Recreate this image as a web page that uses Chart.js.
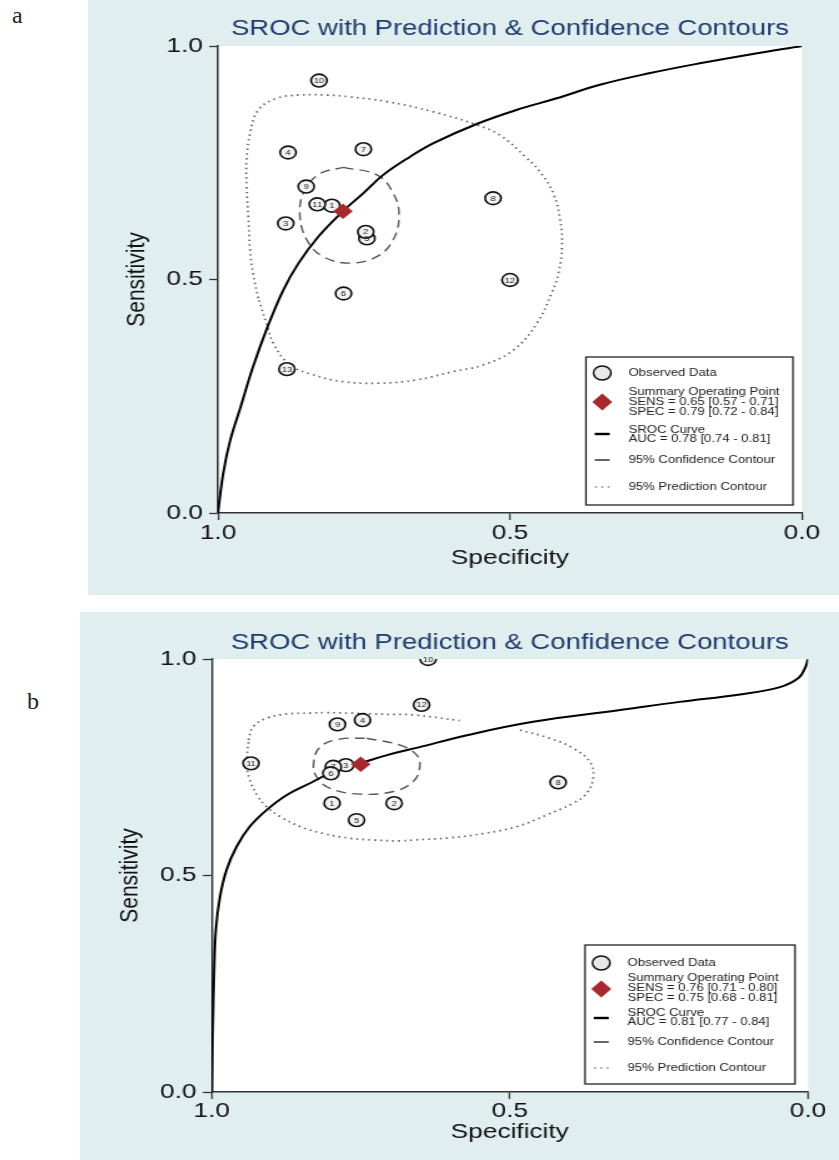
<!DOCTYPE html>
<html>
<head>
<meta charset="utf-8">
<script src="https://cdn.jsdelivr.net/npm/chart.js@4.4.1/dist/chart.umd.min.js"></script>
<style>
  body { margin: 0; background: #fff; width: 839px; height: 1160px; position: relative; overflow: hidden; }
  .panel { position: absolute; background: #e1eef0; overflow: hidden; }
  .panel canvas { position: absolute; left: 0; top: 0; transform-origin: 0 0; transform: scaleX(1.25); }
  .tag { position: absolute; font-family: "Liberation Serif", "DejaVu Serif", serif; font-size: 24px; color: #222; }
</style>
</head>
<body>
<div class="tag" style="left:12px; top:2px">a</div>
<div class="panel" style="left:88px; top:0; width:751px; height:595px"><canvas id="chartA" width="601" height="595"></canvas></div>
<div class="tag" style="left:27px; top:688px">b</div>
<div class="panel" style="left:80px; top:612px; width:759px; height:548px"><canvas id="chartB" width="607" height="548"></canvas></div>

<script>
// AXIS TICKS
const xTickValues = [1.0, 0.5, 0.0];
const xTickLabels = ["1.0", "0.5", "0.0"];
const yTickValues = [0.0, 0.5, 1.0];
const yTickLabels = ["0.0", "0.5", "1.0"];

// PANEL A - STUDIES
const studyIdsA = ["5", "1", "2", "3", "4", "6", "7", "8", "9", "10", "11", "12", "13"];
const studySpecA = [0.745, 0.805, 0.747, 0.884, 0.880, 0.785, 0.751, 0.529, 0.849, 0.827, 0.830, 0.500, 0.882];
const studySensA = [0.588, 0.658, 0.602, 0.620, 0.772, 0.470, 0.779, 0.674, 0.699, 0.926, 0.661, 0.499, 0.308];
const sumSpecA = [0.786];
const sumSensA = [0.646];

// PANEL A - SROC CURVE
const curveSpecA = [1.000, 0.991, 0.979, 0.961, 0.940, 0.915, 0.888, 0.862, 0.828, 0.787, 0.751, 0.717, 0.671, 0.631, 0.557, 0.489, 0.420, 0.346, 0.260, 0.175, 0.089, 0.000];
const curveSensA = [0.000, 0.085, 0.156, 0.228, 0.313, 0.399, 0.478, 0.535, 0.592, 0.645, 0.685, 0.724, 0.763, 0.792, 0.833, 0.863, 0.888, 0.917, 0.942, 0.963, 0.982, 1.000];

// PANEL A - CONTOURS
const confSpecA = [0.785, 0.728, 0.700, 0.690, 0.700, 0.728, 0.774, 0.820, 0.848, 0.860, 0.851, 0.825, 0.785];
const confSensA = [0.740, 0.724, 0.685, 0.638, 0.585, 0.549, 0.535, 0.549, 0.585, 0.642, 0.692, 0.727, 0.740];
const predSpecA = [0.931, 0.940, 0.945, 0.948, 0.951, 0.951, 0.945, 0.931, 0.899, 0.860, 0.814, 0.774, 0.711, 0.631, 0.557, 0.517, 0.474, 0.449, 0.426, 0.414, 0.411, 0.417, 0.429, 0.454, 0.494, 0.546, 0.597, 0.660, 0.723, 0.785, 0.837, 0.877, 0.905, 0.917, 0.931];
const predSensA = [0.460, 0.513, 0.563, 0.634, 0.699, 0.756, 0.813, 0.863, 0.888, 0.895, 0.895, 0.891, 0.881, 0.859, 0.831, 0.809, 0.763, 0.731, 0.685, 0.627, 0.570, 0.513, 0.470, 0.406, 0.349, 0.317, 0.303, 0.285, 0.278, 0.281, 0.296, 0.317, 0.363, 0.406, 0.460];

// PANEL A - LEGEND TEXT
const summaryTextA = ["Summary Operating Point", "SENS = 0.65 [0.57 - 0.71]", "SPEC = 0.79 [0.72 - 0.84]"];
const curveTextA = ["SROC Curve", "AUC = 0.78 [0.74 - 0.81]"];

// PANEL B - STUDIES
const studyIdsB = ["1", "2", "3", "4", "5", "7", "6", "8", "9", "10", "11", "12"];
const studySpecB = [0.798, 0.694, 0.775, 0.747, 0.757, 0.796, 0.800, 0.419, 0.789, 0.637, 0.934, 0.648];
const studySensB = [0.667, 0.667, 0.755, 0.859, 0.628, 0.751, 0.736, 0.715, 0.849, 1.000, 0.759, 0.894];
const sumSpecB = [0.750];
const sumSensB = [0.757];

// PANEL B - SROC CURVE
const curveSpecB = [1.000, 0.998, 0.996, 0.993, 0.986, 0.975, 0.958, 0.936, 0.908, 0.874, 0.835, 0.796, 0.751, 0.706, 0.653, 0.572, 0.461, 0.315, 0.215, 0.114, 0.047, 0.016, 0.005, 0.000];
const curveSensB = [0.000, 0.159, 0.274, 0.374, 0.451, 0.513, 0.567, 0.613, 0.651, 0.686, 0.713, 0.740, 0.759, 0.778, 0.796, 0.824, 0.855, 0.882, 0.901, 0.918, 0.935, 0.956, 0.979, 1.000];

// PANEL B - CONTOURS
const confSpecB = [0.740, 0.684, 0.656, 0.651, 0.662, 0.695, 0.751, 0.801, 0.824, 0.829, 0.818, 0.785, 0.740];
const confSensB = [0.817, 0.801, 0.778, 0.751, 0.717, 0.694, 0.688, 0.701, 0.728, 0.759, 0.797, 0.815, 0.817];
const predSpecB = [0.938, 0.930, 0.908, 0.874, 0.835, 0.807, 0.768, 0.729, 0.695, 0.662, 0.584, 0.530, 0.483, 0.433, 0.394, 0.366, 0.360, 0.371, 0.394, 0.438, 0.488, 0.544, 0.600, 0.662, 0.684, 0.729, 0.768, 0.813, 0.852, 0.885, 0.908, 0.922, 0.936, 0.941, 0.938];
const predSensB = [0.813, 0.844, 0.863, 0.873, 0.875, 0.876, 0.875, 0.873, 0.872, 0.871, 0.858, null, 0.836, 0.817, 0.794, 0.763, 0.728, 0.690, 0.667, 0.640, 0.613, 0.597, 0.587, 0.582, 0.580, 0.582, 0.586, 0.597, 0.613, 0.636, 0.659, 0.682, 0.721, 0.759, 0.813];

// PANEL B - LEGEND TEXT
const summaryTextB = ["Summary Operating Point", "SENS = 0.76 [0.71 - 0.80]", "SPEC = 0.75 [0.68 - 0.81]"];
const curveTextB = ["SROC Curve", "AUC = 0.81 [0.77 - 0.84]"];

const TITLE = "SROC with Prediction & Confidence Contours";
const RED = "#a8282f";
const FONT = "'Liberation Sans', Arial, sans-serif";

Chart.defaults.font.family = FONT;
Chart.defaults.color = "#111";

function toPoints(xs, ys) {
  return xs.map((x, i) => ({ x: x, y: ys[i] }));
}

// white plotting region
const plotBg = {
  id: "plotBg",
  beforeDraw(chart) {
    const { ctx, chartArea: a } = chart;
    ctx.save();
    ctx.fillStyle = "#fff";
    ctx.fillRect(a.left, a.top, a.width, a.height);
    ctx.restore();
  },
};

// study numbers inside the circles
const studyLabels = {
  id: "studyLabels",
  afterDatasetDraw(chart, args, opts) {
    if (args.index !== 1) return;
    const ctx = chart.ctx;
    ctx.save();
    ctx.font = "7.5px " + FONT;
    ctx.fillStyle = "#222";
    ctx.textAlign = "center";
    ctx.textBaseline = "middle";
    args.meta.data.forEach((pt, i) => {
      ctx.fillText(opts.ids[i], pt.x, pt.y + 0.5);
    });
    ctx.restore();
  },
};

// stata style legend box
const sroclegend = {
  id: "sroclegend",
  afterDraw(chart, args, o) {
    const ctx = chart.ctx;
    const b = o.box;
    const r = o.rows;
    const sx = b.x + 13;
    const tx = b.x + 34;
    ctx.save();
    ctx.fillStyle = "#fff";
    ctx.fillRect(b.x, b.y, b.w, b.h);
    ctx.strokeStyle = "#222";
    ctx.lineWidth = 1.3;
    ctx.strokeRect(b.x, b.y, b.w, b.h);

    // symbols
    ctx.beginPath();
    ctx.arc(sx, b.y + r[0], 7, 0, Math.PI * 2);
    ctx.fillStyle = "#e8e8e8";
    ctx.fill();
    ctx.lineWidth = 1.5;
    ctx.strokeStyle = "#111";
    ctx.stroke();

    const dy = b.y + r[2];
    ctx.beginPath();
    ctx.moveTo(sx - 8, dy);
    ctx.lineTo(sx, dy - 8.5);
    ctx.lineTo(sx + 8, dy);
    ctx.lineTo(sx, dy + 8.5);
    ctx.closePath();
    ctx.fillStyle = RED;
    ctx.fill();

    ctx.fillStyle = "#000";
    ctx.fillRect(sx - 6, b.y + r[8] - 1.2, 12, 2.4);
    ctx.fillStyle = "#666";
    ctx.fillRect(sx - 6, b.y + r[6] - 1, 12, 2);
    ctx.fillStyle = "#777";
    [-5, 0, 5].forEach((d) => ctx.fillRect(sx + d - 0.7, b.y + r[7] - 0.7, 1.4, 1.4));

    // texts
    ctx.fillStyle = "#222";
    ctx.font = "10.5px " + FONT;
    ctx.textBaseline = "middle";
    ctx.textAlign = "left";
    ctx.fillText("Observed Data", tx, b.y + r[0]);
    o.summary.forEach((t, i) => ctx.fillText(t, tx, b.y + r[1] + i * 10));
    o.curve.forEach((t, i) => ctx.fillText(t, tx, b.y + r[4] + i * 9.5));
    ctx.fillText("95% Confidence Contour", tx, b.y + r[6]);
    ctx.fillText("95% Prediction Contour", tx, b.y + r[7]);
    ctx.restore();
  },
};

function tickLabel(values, labels) {
  return (v) => {
    const i = values.findIndex((t) => Math.abs(t - v) < 1e-9);
    return i >= 0 ? labels[i] : "";
  };
}

function makeChart(id, d, lay) {
  return new Chart(document.getElementById(id), {
    type: "scatter",
    data: {
      datasets: [
        {
          label: "Summary Operating Point",
          data: toPoints(d.sumSpec, d.sumSens),
          pointStyle: "rectRot",
          pointRadius: 7.8,
          backgroundColor: RED,
          borderColor: RED,
          borderWidth: 0,
        },
        {
          label: "Observed Data",
          data: toPoints(d.studySpec, d.studySens),
          pointStyle: "circle",
          pointRadius: 6.4,
          backgroundColor: "#f2f2f2",
          borderColor: "#111",
          borderWidth: 1.6,
        },
        {
          type: "line",
          label: "SROC Curve",
          data: toPoints(d.curveSpec, d.curveSens),
          borderColor: "#000",
          borderWidth: 2,
          pointRadius: 0,
          tension: 0.4,
          fill: false,
        },
        {
          type: "line",
          label: "95% Confidence Contour",
          data: toPoints(d.confSpec, d.confSens),
          borderColor: "#555",
          borderWidth: 1.4,
          borderDash: [8, 5],
          pointRadius: 0,
          tension: 0.4,
          fill: false,
        },
        {
          type: "line",
          label: "95% Prediction Contour",
          data: toPoints(d.predSpec, d.predSens),
          borderColor: "#5e5e5e",
          borderWidth: 1.7,
          borderDash: [1.4, 3.4],
          pointRadius: 0,
          tension: 0.4,
          spanGaps: false,
          fill: false,
        },
      ],
    },
    options: {
      responsive: false,
      animation: false,
      events: [],
      layout: { padding: { top: 0, right: lay.padRight, bottom: 0, left: 0 } },
      scales: {
        x: {
          type: "linear",
          min: 0,
          max: 1,
          reverse: true,
          afterBuildTicks: (s) => { s.ticks = xTickValues.map((v) => ({ value: v })); },
          afterFit: (s) => { s.height = lay.xAxisHeight; },
          ticks: {
            callback: tickLabel(xTickValues, xTickLabels),
            font: { size: 21 },
            color: "#111",
            padding: lay.xTickPad,
            maxRotation: 0,
            autoSkip: false,
          },
          grid: { drawOnChartArea: false, drawTicks: true, tickLength: 7, tickWidth: 1.3, tickColor: "#333" },
          border: { display: true, color: "#333", width: 1.5 },
          title: {
            display: true,
            text: "Specificity",
            font: { size: 21, lineHeight: 1.2 },
            color: "#111",
            padding: { top: 0, bottom: lay.xTitlePad },
          },
        },
        y: {
          type: "linear",
          min: 0,
          max: 1,
          afterBuildTicks: (s) => { s.ticks = yTickValues.map((v) => ({ value: v })); },
          afterFit: (s) => { s.width = lay.yAxisWidth; },
          ticks: {
            callback: tickLabel(yTickValues, yTickLabels),
            font: { size: 21 },
            color: "#111",
            padding: 5,
            autoSkip: false,
          },
          grid: { drawOnChartArea: false, drawTicks: true, tickLength: 7, tickWidth: 1.3, tickColor: "#333" },
          border: { display: true, color: "#333", width: 1.5 },
          title: {
            display: true,
            text: "Sensitivity",
            font: { size: 21, lineHeight: 1.2 },
            color: "#111",
            padding: { top: lay.yTitlePad, bottom: 0 },
          },
        },
      },
      plugins: {
        legend: { display: false },
        tooltip: { enabled: false },
        title: {
          display: true,
          text: TITLE,
          fullSize: false,
          color: "#1f3b6b",
          font: { size: 22, weight: "normal", lineHeight: 1.2 },
          padding: lay.titlePad,
        },
        studyLabels: { ids: d.studyIds },
        sroclegend: { box: lay.legendBox, rows: lay.legendRows, summary: d.summaryText, curve: d.curveText },
      },
    },
    plugins: [plotBg, studyLabels, sroclegend],
  });
}

makeChart("chartA", {
  studyIds: studyIdsA, studySpec: studySpecA, studySens: studySensA,
  sumSpec: sumSpecA, sumSens: sumSensA,
  curveSpec: curveSpecA, curveSens: curveSensA,
  confSpec: confSpecA, confSens: confSensA,
  predSpec: predSpecA, predSens: predSensA,
  summaryText: summaryTextA, curveText: curveTextA,
}, {
  padRight: 29.8,
  xAxisHeight: 82,
  yAxisWidth: 104,
  xTickPad: 1,
  xTitlePad: 23.8,
  yTitlePad: 26.3,
  titlePad: { top: 15.5, bottom: 4.1 },
  legendBox: { x: 398.4, y: 357, w: 165.6, h: 148 },
  legendRows: [16, 35, 45, 55, 73, 82, 103, 130, 77],
});

makeChart("chartB", {
  studyIds: studyIdsB, studySpec: studySpecB, studySens: studySensB,
  sumSpec: sumSpecB, sumSens: sumSensB,
  curveSpec: curveSpecB, curveSens: curveSensB,
  confSpec: confSpecB, confSens: confSensB,
  predSpec: predSpecB, predSens: predSensB,
  summaryText: summaryTextB, curveText: curveTextB,
}, {
  padRight: 24.6,
  xAxisHeight: 68,
  yAxisWidth: 105.3,
  xTickPad: 0,
  xTitlePad: 15.4,
  yTitlePad: 27.4,
  titlePad: { top: 17.8, bottom: 2.8 },
  legendBox: { x: 404, y: 333, w: 168, h: 139 },
  legendRows: [18, 33, 44, 54, 68, 77, 97, 123, 73],
});
</script>
</body>
</html>
